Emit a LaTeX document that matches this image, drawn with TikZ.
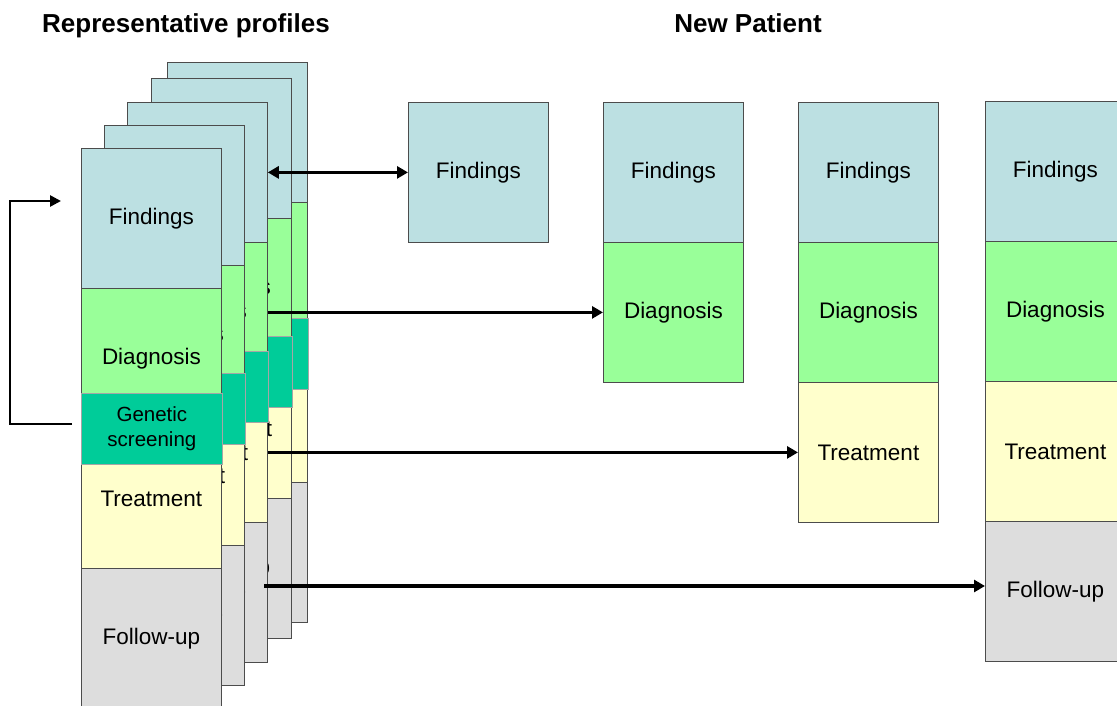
\documentclass[tikz,border=0pt]{standalone}
\usepackage{fontspec}
\setmainfont{Liberation Sans}
\usetikzlibrary{arrows.meta,calc}
\definecolor{finc}{RGB}{188,224,226}
\definecolor{diac}{RGB}{153,255,153}
\definecolor{genc}{RGB}{0,204,153}
\definecolor{trec}{RGB}{255,255,204}
\definecolor{folc}{RGB}{221,221,221}
\tikzset{
 sec/.style={draw=black!70, line width=0.8pt, minimum width=140pt, minimum height=140pt, inner sep=0pt, anchor=north west, font=\fontsize{22.5}{26}\selectfont},
 fin/.style={sec, fill=finc},
 dia/.style={sec, fill=diac},
 tre/.style={sec, fill=trec},
 fol/.style={sec, fill=folc},
 gen/.style={draw=black!35, line width=0.8pt, fill=genc, minimum width=141pt, minimum height=71pt, inner sep=0pt, anchor=north west, align=center, font=\fontsize{20.5}{25}\selectfont},
 title/.style={anchor=base, font=\bfseries\fontsize{26}{30}\selectfont},
 conn/.style={line width=3.6pt, -{Triangle[length=11pt,width=12pt]}},
 dconn/.style={line width=3.6pt, {Triangle[length=11pt,width=12pt]}-{Triangle[length=11pt,width=12pt]}},
 fback/.style={line width=2.6pt, -{Triangle[length=11pt,width=11pt]}},
}
\newcommand\profcard[4]{%
 \node[fin] (#1f) at (#2,#3) {Findings};
 \node[dia] (#1d) at (#2,#3+140) {Diagnosis};
 \node[tre] (#1t) at (#2,#3+280) {Treatment};
 \node[fol] (#1u) at (#2,#3+420) {Follow-up};
 \node[gen] (#1g) at (#2,#4) {Genetic\\screening};
}
\begin{document}
\begin{tikzpicture}[x=1pt,y=-1pt]
\useasboundingbox (0,0) rectangle (1117,706);
\node[title] (t1) at (186,33) {Representative profiles};
\node[title] (t2) at (748,33) {New Patient};
% stacked profiles, back to front
\profcard{c4}{167}{62}{318}
\profcard{c3}{151}{78}{336}
\profcard{c2}{127}{102}{351}
\profcard{c1}{104}{125}{373}
\profcard{c0}{81}{148}{393}
% new patient columns
\node[fin] (af) at (408,102) {Findings};
\node[fin] (bf) at (603,102) {Findings};
\node[dia] (bd) at (603,242) {Diagnosis};
\node[fin] (cf) at (798,102) {Findings};
\node[dia] (cd) at (798,242) {Diagnosis};
\node[tre] (ct) at (798,382) {Treatment};
\node[fin] (df) at (985,101) {Findings};
\node[dia] (dd) at (985,241) {Diagnosis};
\node[tre] (dt) at (985,381) {Treatment};
\node[fol] (du) at (985,521) {Follow-up};
% connectors
\draw[dconn] (c2f.east) -- (af.west);
\draw[conn] (c2d.east) -- (bd.west);
\draw[conn] (c2t.east) -- (ct.west);
\coordinate (s4) at (264,586);
\draw[conn] (s4) -- (s4 -| du.west);
\coordinate (fb1) at (72,424);
\coordinate (fb2) at (61,201);
\draw[fback] (fb1) -- (10,424) |- (fb2);
\end{tikzpicture}
\end{document}
